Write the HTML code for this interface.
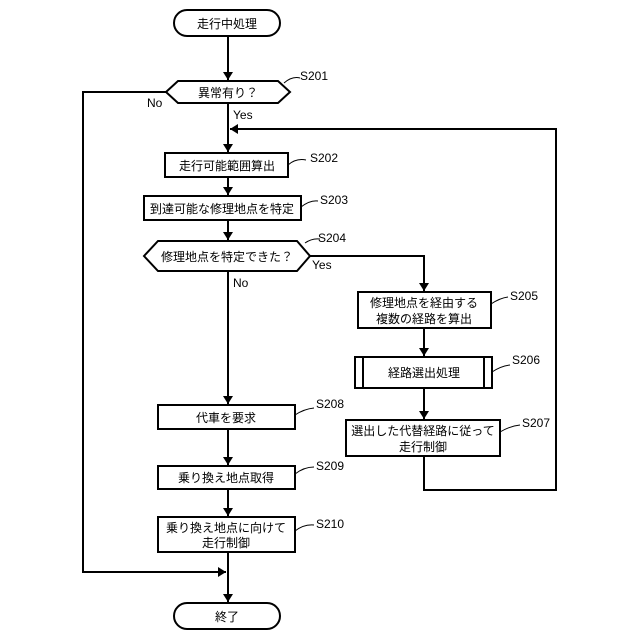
<!DOCTYPE html>
<html><head><meta charset="utf-8"><style>
html,body{margin:0;padding:0;background:#fff;}
svg{display:block;}
text{font-family:"Liberation Sans","Noto Sans CJK JP",sans-serif;font-size:12px;fill:#000;}
.t{text-anchor:middle;}
</style></head><body>
<svg width="640" height="640" viewBox="0 0 640 640">
<defs><marker id="a" markerWidth="8" markerHeight="10" refX="8" refY="5" orient="auto" markerUnits="userSpaceOnUse"><path d="M0,0 L8,5 L0,10 Z" fill="#000"/></marker></defs>
<g fill="none" stroke="#000" stroke-width="2">
<rect x="174" y="10" width="106" height="26" rx="13"/>
<path d="M166,92 L178,81 L278,81 L290,92 L278,103 L178,103 Z"/>
<rect x="165" y="153" width="123" height="24"/>
<rect x="144" y="196" width="157" height="24"/>
<path d="M144,256 L158,241 L297,241 L310,256 L297,271 L158,271 Z"/>
<rect x="358" y="292" width="133" height="36"/>
<rect x="355" y="357" width="137" height="31"/>
<line x1="363" y1="357" x2="363" y2="388"/><line x1="484" y1="357" x2="484" y2="388"/>
<rect x="346" y="420" width="154" height="36"/>
<rect x="158" y="405" width="137" height="24"/>
<rect x="158" y="466" width="137" height="23"/>
<rect x="158" y="517" width="137" height="35"/>
<rect x="174" y="603" width="106" height="26" rx="13"/>
<line x1="228" y1="36" x2="228" y2="80" marker-end="url(#a)"/>
<line x1="228" y1="103" x2="228" y2="152" marker-end="url(#a)"/>
<line x1="228" y1="177" x2="228" y2="195" marker-end="url(#a)"/>
<line x1="228" y1="220" x2="228" y2="240" marker-end="url(#a)"/>
<line x1="228" y1="271" x2="228" y2="404" marker-end="url(#a)"/>
<line x1="228" y1="429" x2="228" y2="465" marker-end="url(#a)"/>
<line x1="228" y1="489" x2="228" y2="516" marker-end="url(#a)"/>
<line x1="228" y1="552" x2="228" y2="602" marker-end="url(#a)"/>
<polyline points="166,92 83,92 83,572 226,572" marker-end="url(#a)"/>
<polyline points="310,256 424,256 424,291" marker-end="url(#a)"/>
<line x1="424" y1="328" x2="424" y2="356" marker-end="url(#a)"/>
<line x1="424" y1="388" x2="424" y2="419" marker-end="url(#a)"/>
<polyline points="424,456 424,490 556,490 556,129 230,129" marker-end="url(#a)"/>
</g>
<g fill="none" stroke="#000" stroke-width="1">
<path d="M284,83 Q292,76 300,78"/>
<path d="M288,165 Q296,158 306,160"/>
<path d="M301,207 Q310,200 318,201"/>
<path d="M305,243 Q312,238 320,239"/>
<path d="M491,304 Q500,298 508,297"/>
<path d="M492,372 Q501,366 510,365"/>
<path d="M500,432 Q510,426 520,425"/>
<path d="M295,415 Q304,409 314,408"/>
<path d="M295,474 Q304,467 314,467"/>
<path d="M295,531 Q304,524 314,525"/>
</g>
<text class="t" x="227" y="28">走行中処理</text>
<text class="t" x="228" y="97">異常有り？</text>
<text class="t" x="227" y="170">走行可能範囲算出</text>
<text class="t" x="222" y="213">到達可能な修理地点を特定</text>
<text class="t" x="227" y="261">修理地点を特定できた？</text>
<text class="t" x="424" y="307">修理地点を経由する</text>
<text class="t" x="424" y="323">複数の経路を算出</text>
<text class="t" x="424" y="377">経路選出処理</text>
<text class="t" x="423" y="435">選出した代替経路に従って</text>
<text class="t" x="423" y="451">走行制御</text>
<text class="t" x="226" y="422">代車を要求</text>
<text class="t" x="226" y="482">乗り換え地点取得</text>
<text class="t" x="226" y="532">乗り換え地点に向けて</text>
<text class="t" x="226" y="547">走行制御</text>
<text class="t" x="227" y="621">終了</text>
<g style="font-size:11px">
<text x="300" y="80">S201</text>
<text x="310" y="162">S202</text>
<text x="320" y="204">S203</text>
<text x="318" y="242">S204</text>
<text x="510" y="300">S205</text>
<text x="512" y="364">S206</text>
<text x="522" y="427">S207</text>
<text x="316" y="408">S208</text>
<text x="316" y="470">S209</text>
<text x="316" y="528">S210</text>
<text x="147" y="107">No</text>
<text x="233" y="119">Yes</text>
<text x="312" y="269">Yes</text>
<text x="233" y="287">No</text>
</g>
</svg>
</body></html>
